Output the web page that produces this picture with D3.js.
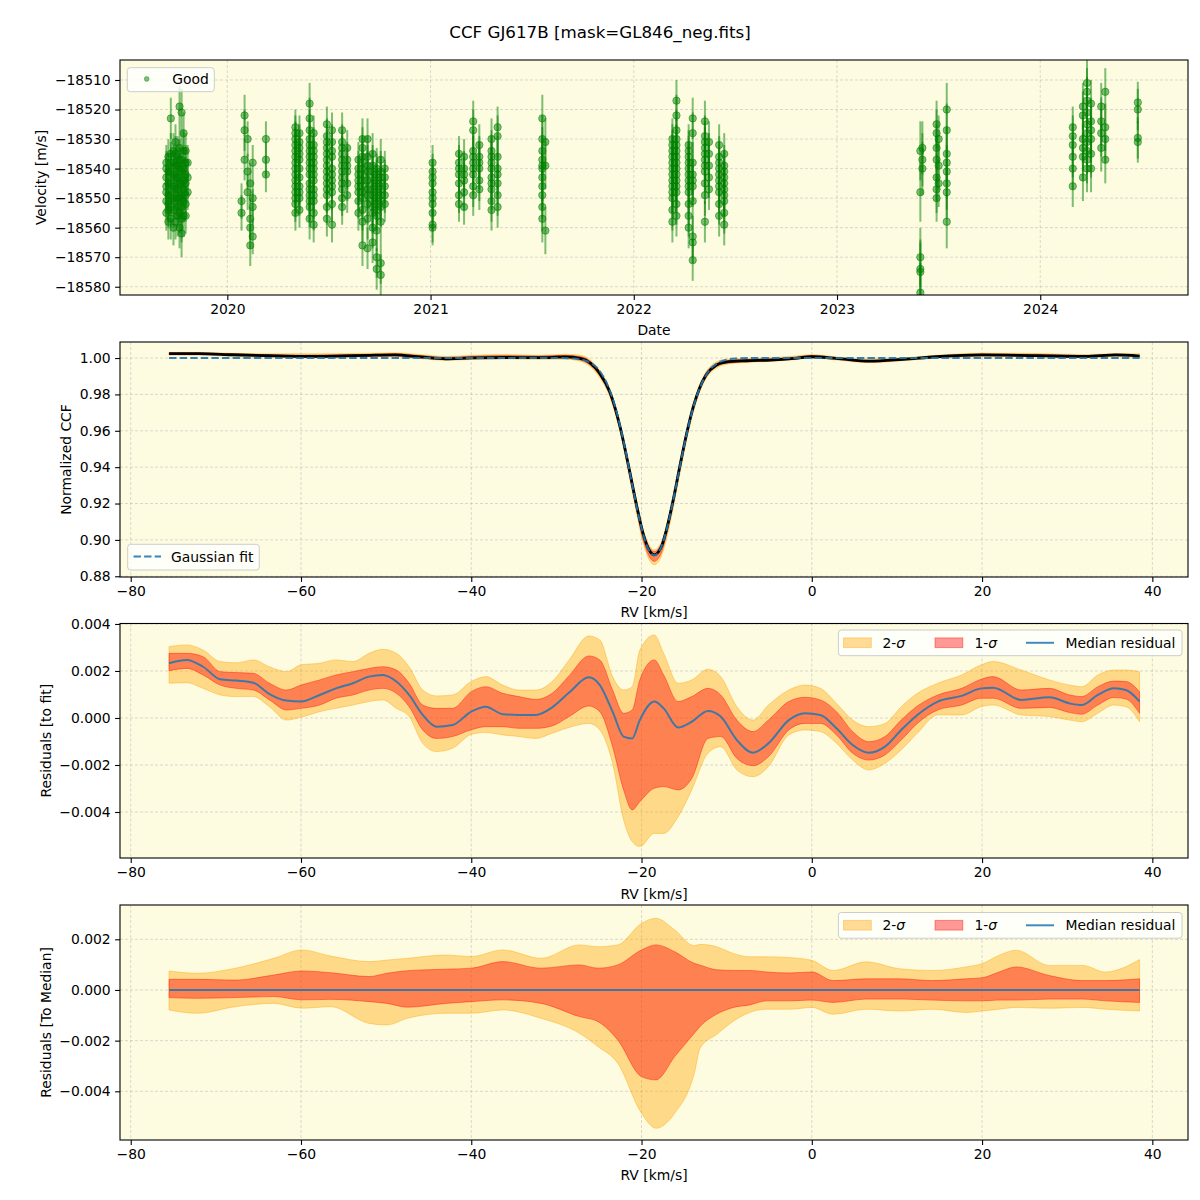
<!DOCTYPE html>
<html><head><meta charset="utf-8">
<script src="https://cdn.jsdelivr.net/npm/d3@7"></script>
<style>body{margin:0;background:#fff} svg{display:block} text{font-family:"DejaVu Sans",sans-serif}</style>
</head><body>
<script>
// ---------------- DATA ----------------
const chartTitle = "CCF GJ617B [mask=GL846_neg.fits]";

// Panel 1: velocity time series, grouped by observing night (fractional year)
const obsDate = [2019.700,2019.710,2019.722,2019.735,2019.745,2019.755,2019.765,2019.775,2019.785,2019.795,2019.805,
  2020.070,2020.085,2020.100,2020.113,2020.125,2020.190,
  2020.335,2020.355,2020.405,2020.425,2020.490,2020.515,2020.565,2020.590,2020.645,2020.665,2020.690,2020.715,2020.735,2020.755,2020.775,
  2021.010,2021.140,2021.165,2021.210,2021.240,2021.300,2021.330,2021.550,2021.565,
  2022.190,2022.210,2022.270,2022.290,2022.350,2022.370,2022.420,2022.445,
  2023.410,2023.420,2023.490,2023.500,2023.540,
  2024.160,2024.210,2024.230,2024.250,2024.300,2024.320,2024.480];
const obsErr = [6,6,7,6,6,7,7,8,7,6,6, 6,7,6,7,6,6, 6,6,7,6,6,6,6,6,6,7,7,7,7,7,6, 6,6,6,7,7,7,7,8,8, 7,7,7,7,7,7,7,7, 10,9,8,8,9, 7,8,8,8,8,8,7];
const obsVel = [
  [-18540,-18543,-18548,-18551,-18555,-18538,-18546],[-18536,-18552,-18545,-18558,-18541,-18549,-18554],
  [-18523,-18541,-18557,-18549,-18535,-18545,-18553,-18538],[-18538,-18550,-18546,-18560,-18542,-18554,-18534],
  [-18535,-18558,-18543,-18531,-18547,-18551,-18539],[-18543,-18553,-18547,-18539,-18536,-18556,-18550],
  [-18519,-18533,-18560,-18540,-18550,-18545,-18555,-18537],[-18521,-18545,-18562,-18549,-18537,-18553,-18541,-18557],
  [-18528,-18540,-18551,-18556,-18544,-18547,-18534],[-18534,-18545,-18556,-18542,-18538,-18549,-18552],[-18538,-18548,-18543],
  [-18551,-18555],[-18522,-18527,-18537],[-18548,-18541,-18530],[-18557,-18560,-18566,-18545],[-18563,-18538,-18550,-18553],[-18530,-18537,-18542],
  [-18526,-18528,-18530,-18532,-18534,-18536,-18538,-18540,-18542,-18544,-18546,-18548,-18550,-18552,-18555],
  [-18528,-18531,-18533,-18535,-18537,-18540,-18543,-18546,-18548,-18550,-18554],
  [-18518,-18523,-18527,-18530,-18532,-18534,-18536,-18538,-18540,-18542,-18545,-18547,-18549,-18551,-18553,-18557],
  [-18528,-18532,-18534,-18536,-18538,-18540,-18542,-18544,-18547,-18549,-18551,-18555,-18559],
  [-18525,-18529,-18531,-18533,-18535,-18537,-18539,-18541,-18543,-18545,-18547,-18549,-18553,-18557],
  [-18527,-18531,-18534,-18536,-18540,-18542,-18544,-18546,-18548,-18552,-18559],
  [-18527,-18531,-18533,-18535,-18537,-18539,-18541,-18543,-18545,-18547,-18550,-18553],
  [-18533,-18537,-18539,-18541,-18545,-18549],
  [-18537,-18540,-18542,-18544,-18546,-18548,-18551,-18555],
  [-18530,-18533,-18536,-18538,-18540,-18542,-18544,-18546,-18548,-18550,-18554,-18558,-18566],
  [-18530,-18536,-18539,-18541,-18544,-18547,-18549,-18552,-18557,-18567],
  [-18535,-18539,-18541,-18543,-18545,-18547,-18549,-18551,-18553,-18555,-18560,-18565],
  [-18540,-18542,-18544,-18546,-18548,-18550,-18552,-18554,-18556,-18561,-18570,-18574],
  [-18537,-18541,-18543,-18545,-18547,-18549,-18551,-18553,-18558,-18572,-18576],
  [-18540,-18543,-18546,-18549,-18552],
  [-18538,-18541,-18543,-18545,-18548,-18550,-18552,-18555,-18559,-18560],
  [-18535,-18538,-18540,-18542,-18545,-18549,-18552],
  [-18536,-18540,-18542,-18544,-18548,-18553],
  [-18524,-18527,-18534,-18536,-18538,-18540,-18542,-18546,-18549],
  [-18532,-18536,-18538,-18540,-18544,-18547],
  [-18530,-18534,-18536,-18538,-18540,-18543,-18545,-18547,-18551,-18554],
  [-18526,-18529,-18536,-18540,-18542,-18545,-18549,-18553],
  [-18523,-18530,-18534,-18537,-18539,-18540,-18543,-18546,-18549,-18553,-18557],
  [-18531,-18539,-18561],
  [-18530,-18532,-18534,-18536,-18538,-18540,-18542,-18544,-18546,-18548,-18550,-18554,-18558],
  [-18517,-18522,-18527,-18530,-18532,-18534,-18536,-18538,-18540,-18542,-18544,-18546,-18548,-18552,-18556],
  [-18532,-18534,-18536,-18538,-18540,-18542,-18544,-18546,-18548,-18552,-18556,-18560],
  [-18523,-18528,-18538,-18542,-18544,-18546,-18551,-18563,-18565,-18571],
  [-18524,-18529,-18531,-18533,-18535,-18537,-18539,-18541,-18545,-18549,-18558],
  [-18531,-18535,-18539,-18543,-18547],
  [-18532,-18536,-18538,-18540,-18542,-18544,-18546,-18548,-18552,-18556],
  [-18535,-18539,-18541,-18543,-18545,-18547,-18549,-18551,-18555,-18559],
  [-18534,-18548,-18570,-18574,-18575,-18582],[-18533,-18537,-18540],[-18525,-18528,-18533,-18537,-18543,-18547,-18550],
  [-18530,-18539,-18545],[-18520,-18527,-18535,-18538,-18541,-18545,-18548,-18558],
  [-18526,-18529,-18532,-18536,-18540,-18546],[-18519,-18522,-18530,-18533,-18536,-18543],
  [-18511,-18514,-18517,-18521,-18525,-18528,-18531,-18534,-18537,-18540],[-18518,-18524,-18527,-18530,-18535,-18540],
  [-18519,-18524,-18528,-18533],[-18514,-18526,-18530,-18537],[-18517.6,-18520,-18529.6,-18531]];
const yearTicks = [2020,2021,2022,2023,2024];
const velTicks = [-18510,-18520,-18530,-18540,-18550,-18560,-18570,-18580];

// Panel 2: median CCF with spread, and Gaussian fit
const ccfRv  = [-75.5,-72,-68,-64,-60,-56,-52,-49,-46,-43,-40,-36,-32,-29,-27.2,-26,-24.9,-23.7,-22.5,-21.4,-20.6,-19.8,-19.0,-18.5,-18.0,-17.6,-17.1,-16.3,-15.5,-14.7,-13.9,-13.2,-12.4,-11.2,-10.1,-7.7,-4.9,-2,0,2.9,6.8,10.7,14.6,20,26.4,32.2,35.7,38.5];
const ccfMed = [1.0024,1.0024,1.0018,1.0013,1.0009,1.0011,1.0015,1.0017,1.0006,0.9996,1.0001,1.0003,1.0002,1.0006,0.9998,0.9972,0.9915,0.9810,0.9618,0.9378,0.9195,0.9032,0.8936,0.8918,0.8935,0.8970,0.9050,0.9215,0.9405,0.9585,0.9735,0.9833,0.9908,0.9962,0.9978,0.9985,0.9989,0.9998,1.0007,0.9998,0.9983,0.9993,1.0007,1.0017,1.0013,1.0009,1.0017,1.0011];
const ccfDn2 = [0.0008,0.0008,0.0008,0.0008,0.0008,0.0008,0.0008,0.0009,0.0009,0.0009,0.0009,0.0008,0.0009,0.0012,0.0016,0.0020,0.0023,0.0026,0.0029,0.0037,0.0044,0.0049,0.0053,0.0055,0.0054,0.0052,0.0050,0.0046,0.0041,0.0036,0.0030,0.0024,0.0020,0.0017,0.0013,0.0009,0.0008,0.0007,0.0007,0.0009,0.0008,0.0008,0.0008,0.0008,0.0007,0.0007,0.0008,0.0008];
const ccfUp2 = [0.0007,0.0007,0.0008,0.0010,0.0015,0.0013,0.0011,0.0012,0.0013,0.0013,0.0013,0.0016,0.0012,0.0015,0.0018,0.0017,0.0017,0.0018,0.0018,0.0020,0.0024,0.0026,0.0028,0.0028,0.0027,0.0026,0.0025,0.0024,0.0021,0.0018,0.0017,0.0019,0.0018,0.0017,0.0015,0.0013,0.0013,0.0013,0.0012,0.0008,0.0011,0.0008,0.0008,0.0010,0.0012,0.0010,0.0007,0.0012];
const ccfDn1 = [0.0003,0.0003,0.0003,0.0003,0.0004,0.0004,0.0005,0.0005,0.0006,0.0005,0.0005,0.0004,0.0005,0.0005,0.0009,0.0012,0.0013,0.0016,0.0019,0.0025,0.0030,0.0033,0.0035,0.0036,0.0035,0.0033,0.0030,0.0027,0.0023,0.0020,0.0017,0.0014,0.0011,0.0009,0.0007,0.0006,0.0004,0.0004,0.0004,0.0005,0.0004,0.0004,0.0004,0.0004,0.0004,0.0004,0.0004,0.0005];
const ccfUp1 = [0.0004,0.0004,0.0004,0.0006,0.0007,0.0007,0.0005,0.0007,0.0008,0.0008,0.0009,0.0011,0.0009,0.0009,0.0010,0.0010,0.0009,0.0010,0.0010,0.0012,0.0015,0.0016,0.0017,0.0018,0.0017,0.0016,0.0015,0.0014,0.0012,0.0011,0.0010,0.0011,0.0009,0.0008,0.0008,0.0008,0.0007,0.0007,0.0007,0.0004,0.0004,0.0004,0.0004,0.0005,0.0007,0.0004,0.0004,0.0004];
const fitRv  = [-75.5,-30,-28,-27,-26,-25,-24,-23,-22,-21,-20,-19.5,-19,-18.5,-18,-17.5,-17,-16,-15,-14,-13,-12,-11,-10,-9,-7,38.5];
const fitVal = [1.0000,1.0000,0.9997,0.9991,0.9974,0.9934,0.9853,0.9716,0.9517,0.9282,0.9065,0.8984,0.8933,0.8915,0.8933,0.8984,0.9065,0.9282,0.9517,0.9716,0.9853,0.9934,0.9974,0.9991,0.9997,1.0000,1.0000];
const ccfTicks = [1.00,0.98,0.96,0.94,0.92,0.90,0.88];
const rvTicks = [-80,-60,-40,-20,0,20,40];

// Panel 3: residuals to fit
const resRv  = [-75.5,-73.4,-71.5,-69.5,-67.6,-65.6,-63.7,-61.7,-60.0,-57.8,-55.9,-53.9,-52.0,-50.4,-48.8,-47.3,-45.7,-44.1,-42.2,-40.0,-38.3,-36.3,-34.4,-32.4,-30.5,-28.5,-26.2,-24.9,-23.4,-22.1,-21.1,-20.2,-18.5,-17.4,-15.7,-14.1,-12.2,-10.7,-8.8,-6.9,-5.1,-2.7,-0.8,1.0,2.9,4.8,6.7,8.6,10.5,12.4,14.8,17.6,19.9,21.3,24.6,27.9,30.3,31.7,33.6,35.5,36.9,38.5];
const resMed = [0.00233,0.00247,0.00218,0.00165,0.00159,0.00150,0.00102,0.00074,0.00070,0.00098,0.00126,0.00148,0.00176,0.00183,0.00155,0.00098,0.00013,-0.00037,-0.00030,0.00027,0.00048,0.00016,0.00013,0.00013,0.00045,0.00108,0.00173,0.00140,0.00027,-0.00079,-0.00087,-0.00009,0.00070,0.00041,-0.00040,-0.00016,0.00030,0.00006,-0.00094,-0.00148,-0.00108,-0.00009,0.00020,0.00013,-0.00044,-0.00115,-0.00148,-0.00122,-0.00051,0.00013,0.00070,0.00094,0.00126,0.00129,0.00077,0.00088,0.00062,0.00055,0.00098,0.00126,0.00119,0.00070];
const resHi1 = [0.00275,0.00275,0.00261,0.00197,0.00193,0.00190,0.00148,0.00119,0.00140,0.00162,0.00183,0.00197,0.00211,0.00218,0.00204,0.00148,0.00055,0.00041,0.00041,0.00112,0.00133,0.00105,0.00091,0.00079,0.00105,0.00180,0.00264,0.00247,0.00119,0.00020,0.00034,0.00162,0.00247,0.00183,0.00070,0.00091,0.00126,0.00098,-0.00009,-0.00058,-0.00009,0.00070,0.00088,0.00077,0.00027,-0.00058,-0.00101,-0.00079,-0.00009,0.00051,0.00098,0.00126,0.00165,0.00176,0.00119,0.00126,0.00098,0.00091,0.00133,0.00157,0.00155,0.00112];
const resLo1 = [0.00201,0.00211,0.00183,0.00140,0.00126,0.00119,0.00077,0.00034,0.00041,0.00055,0.00084,0.00098,0.00119,0.00126,0.00105,0.00048,-0.00051,-0.00087,-0.00079,-0.00050,-0.00037,-0.00037,-0.00044,-0.00044,-0.00034,0.00006,0.00051,0.00027,-0.00122,-0.00306,-0.00391,-0.00356,-0.00299,-0.00292,-0.00306,-0.00257,-0.00087,-0.00079,-0.00172,-0.00203,-0.00165,-0.00051,-0.00023,-0.00023,-0.00072,-0.00150,-0.00179,-0.00157,-0.00094,-0.00023,0.00034,0.00055,0.00084,0.00084,0.00041,0.00045,0.00023,0.00016,0.00055,0.00087,0.00081,0.00020];
const resHi2 = [0.00304,0.00311,0.00289,0.00240,0.00235,0.00247,0.00218,0.00197,0.00226,0.00233,0.00247,0.00240,0.00275,0.00292,0.00275,0.00218,0.00119,0.00094,0.00098,0.00155,0.00176,0.00140,0.00119,0.00119,0.00155,0.00247,0.00349,0.00332,0.00176,0.00119,0.00133,0.00289,0.00353,0.00275,0.00148,0.00162,0.00207,0.00176,0.00048,-0.00009,0.00055,0.00119,0.00140,0.00126,0.00062,-0.00009,-0.00037,-0.00023,0.00048,0.00105,0.00148,0.00183,0.00226,0.00240,0.00204,0.00162,0.00140,0.00133,0.00183,0.00204,0.00204,0.00197];
const resLo2 = [0.00148,0.00150,0.00126,0.00098,0.00091,0.00091,0.00048,-0.00009,0.00003,0.00027,0.00041,0.00055,0.00070,0.00077,0.00041,0.00006,-0.00108,-0.00143,-0.00129,-0.00070,-0.00062,-0.00072,-0.00079,-0.00087,-0.00065,-0.00040,-0.00023,-0.00051,-0.00193,-0.00434,-0.00526,-0.00547,-0.00491,-0.00491,-0.00420,-0.00306,-0.00150,-0.00122,-0.00221,-0.00250,-0.00207,-0.00072,-0.00051,-0.00058,-0.00108,-0.00179,-0.00221,-0.00193,-0.00136,-0.00065,0.00013,0.00013,0.00048,0.00055,0.00013,0.00006,-0.00009,-0.00016,0.00020,0.00055,0.00048,-0.00016];
const resTicks = [0.004,0.002,0.000,-0.002,-0.004];

// Panel 4: residuals to median
const mrRv  = [-75.5,-72.2,-67.7,-63.2,-59.9,-56.5,-52.0,-49.9,-47.5,-43.0,-40.0,-36.3,-31.8,-27.3,-25.1,-22.8,-20.0,-18.3,-16.1,-13.8,-13.1,-11.2,-9.2,-7.3,-5.3,-2.6,0.0,2.5,6.4,10.3,14.2,18.1,20.0,22.0,24.0,27.9,31.8,34.5,38.5];
const mrHi1 = [0.00042,0.00042,0.00039,0.00059,0.00075,0.00068,0.00053,0.00066,0.00076,0.00082,0.00086,0.00112,0.00086,0.00099,0.00086,0.00099,0.00158,0.00178,0.00151,0.00105,0.00098,0.00080,0.00077,0.00077,0.00071,0.00067,0.00071,0.00037,0.00044,0.00044,0.00037,0.00044,0.00048,0.00071,0.00091,0.00057,0.00037,0.00037,0.00044];
const mrLo1 = [-0.00030,-0.00033,-0.00030,-0.00026,-0.00039,-0.00037,-0.00046,-0.00053,-0.00068,-0.00053,-0.00046,-0.00039,-0.00053,-0.00105,-0.00125,-0.00197,-0.00342,-0.00355,-0.00263,-0.00171,-0.00143,-0.00096,-0.00069,-0.00059,-0.00043,-0.00043,-0.00040,-0.00049,-0.00036,-0.00036,-0.00040,-0.00043,-0.00043,-0.00040,-0.00040,-0.00036,-0.00036,-0.00043,-0.00049];
const mrHi2 = [0.00075,0.00066,0.00086,0.00125,0.00158,0.00134,0.00112,0.00118,0.00125,0.00138,0.00132,0.00158,0.00125,0.00178,0.00171,0.00178,0.00263,0.00283,0.00237,0.00175,0.00180,0.00171,0.00144,0.00131,0.00131,0.00128,0.00117,0.00077,0.00111,0.00084,0.00077,0.00091,0.00104,0.00137,0.00157,0.00097,0.00097,0.00071,0.00120];
const mrLo2 = [-0.00079,-0.00092,-0.00066,-0.00053,-0.00072,-0.00066,-0.00132,-0.00138,-0.00112,-0.00092,-0.00092,-0.00079,-0.00112,-0.00171,-0.00224,-0.00289,-0.00487,-0.00546,-0.00487,-0.00329,-0.00229,-0.00176,-0.00123,-0.00089,-0.00076,-0.00076,-0.00069,-0.00096,-0.00076,-0.00083,-0.00076,-0.00089,-0.00083,-0.00076,-0.00069,-0.00072,-0.00069,-0.00076,-0.00083];
const mrMedRv = [-75.5, 38.5];
const mrMed = [0, 0];
const mrTicks = [0.002,0.000,-0.002,-0.004];

// ---------------- DRAWING ----------------
const W = 1200, H = 1200, L = 120, R = 1188;
const BG = "#fdfce1", FS = 13.9;
const C0 = "#1f77b4";
const svg = d3.select("body").append("svg").attr("width", W).attr("height", H);
svg.append("rect").attr("width", W).attr("height", H).attr("fill", "#fff");

svg.append("text").attr("x", 600).attr("y", 32).attr("dy", "0.35em").attr("text-anchor", "middle")
  .attr("font-size", 16.7).text(chartTitle);

function panel(id, top, bottom, x, y, xTicks, yTicks, xFmt, yFmt, xLabel, xLabelY, yLabel, yLabelX) {
  const g = svg.append("g");
  g.append("rect").attr("x", L).attr("y", top).attr("width", R - L).attr("height", bottom - top).attr("fill", BG);
  g.append("clipPath").attr("id", id).append("rect").attr("x", L).attr("y", top).attr("width", R - L).attr("height", bottom - top);
  const grid = g.append("g").attr("stroke", "#b0b0b0").attr("stroke-opacity", 0.6).attr("stroke-width", 0.8).attr("stroke-dasharray", "3,2");
  grid.selectAll(null).data(xTicks).join("line").attr("x1", d => x(d)).attr("x2", d => x(d)).attr("y1", top).attr("y2", bottom);
  grid.selectAll(null).data(yTicks).join("line").attr("y1", d => y(d)).attr("y2", d => y(d)).attr("x1", L).attr("x2", R);
  const plot = g.append("g").attr("clip-path", `url(#${id})`);
  const axes = g.append("g");
  axes.append("rect").attr("x", L).attr("y", top).attr("width", R - L).attr("height", bottom - top)
    .attr("fill", "none").attr("stroke", "#000").attr("stroke-width", 1.1);
  const xa = axes.append("g").attr("transform", `translate(0,${bottom})`)
    .call(d3.axisBottom(x).tickValues(xTicks).tickFormat(xFmt).tickSize(4.9).tickPadding(4.4));
  const ya = axes.append("g").attr("transform", `translate(${L},0)`)
    .call(d3.axisLeft(y).tickValues(yTicks).tickFormat(yFmt).tickSize(4.9).tickPadding(4.4));
  [xa, ya].forEach(a => {
    a.select(".domain").remove();
    a.attr("font-size", FS).attr("font-family", "DejaVu Sans");
    a.selectAll("line").attr("stroke", "#000").attr("stroke-width", 1.1);
    a.selectAll("text").attr("fill", "#000");
  });
  axes.append("text").attr("x", (L + R) / 2).attr("y", xLabelY).attr("dy", "0.35em").attr("text-anchor", "middle")
    .attr("font-size", FS).text(xLabel);
  axes.append("text").attr("transform", `translate(${yLabelX},${(top + bottom) / 2}) rotate(-90)`)
    .attr("dy", "0.35em").attr("text-anchor", "middle").attr("font-size", FS).text(yLabel);
  const leg = g.append("g");
  return { plot, leg };
}

function legendBox(g, x0, y0, w, h) {
  g.append("rect").attr("x", x0).attr("y", y0).attr("width", w).attr("height", h).attr("rx", 3)
    .attr("fill", "#fff").attr("fill-opacity", 0.8).attr("stroke", "#cccccc").attr("stroke-width", 1);
}

// ---- Panel 1 ----
const x1 = d3.scaleLinear().domain([2019.472, 2024.727]).range([L, R]);
const y1 = d3.scaleLinear().domain([-18582.8, -18503.23]).range([295, 60]);
const p1 = panel("c1", 60, 295, x1, y1, yearTicks, velTicks, d3.format("d"), d3.format("d"),
  "Date", 330, "Velocity [m/s]", 41);
const pts = [];
obsDate.forEach((t, i) => obsVel[i].forEach(v => pts.push({ t, v, e: obsErr[i] })));
p1.plot.append("g").selectAll("line").data(pts).join("line")
  .attr("x1", d => x1(d.t)).attr("x2", d => x1(d.t))
  .attr("y1", d => y1(d.v - d.e)).attr("y2", d => y1(d.v + d.e))
  .attr("stroke", "#008000").attr("stroke-opacity", 0.5).attr("stroke-width", 2);
p1.plot.append("g").selectAll("circle").data(pts).join("circle")
  .attr("cx", d => x1(d.t)).attr("cy", d => y1(d.v)).attr("r", 3.7)
  .attr("fill", "#008000").attr("fill-opacity", 0.5)
  .attr("stroke", "#008000").attr("stroke-opacity", 0.5).attr("stroke-width", 1);
legendBox(p1.leg, 127.3, 67.7, 87, 24);
p1.leg.append("circle").attr("cx", 146.7).attr("cy", 79).attr("r", 2.4).attr("fill", "#008000").attr("fill-opacity", 0.5)
  .attr("stroke", "#008000").attr("stroke-opacity", 0.5).attr("stroke-width", 0.8);
p1.leg.append("text").attr("x", 172.3).attr("y", 79.5).attr("dy", "0.35em").attr("font-size", FS).text("Good");

// ---- Panels 2-4 shared x ----
const xr = d3.scaleLinear().domain([-81.26, 44.19]);
const mkX = () => xr.copy().range([L, R]);

// ---- Panel 2 ----
const x2 = mkX();
const y2 = d3.scaleLinear().domain([0.8796, 1.00882]).range([577, 342]);
const p2 = panel("c2", 342, 577, x2, y2, rvTicks, ccfTicks, d3.format("d"), d3.format(".2f"),
  "RV [km/s]", 612, "Normalized CCF", 66);
const ccfRows = ccfRv.map((r, i) => ({ r, m: ccfMed[i], d2: ccfDn2[i], u2: ccfUp2[i], d1: ccfDn1[i], u1: ccfUp1[i] }));
const cur = d3.curveMonotoneX;
p2.plot.append("path").datum(ccfRows)
  .attr("d", d3.area().x(d => x2(d.r)).y0(d => y2(d.m - d.d2)).y1(d => y2(d.m + d.u2)).curve(cur))
  .attr("fill", "orange").attr("fill-opacity", 0.4).attr("stroke", "orange").attr("stroke-opacity", 0.4);
p2.plot.append("path").datum(ccfRows)
  .attr("d", d3.area().x(d => x2(d.r)).y0(d => y2(d.m - d.d1)).y1(d => y2(d.m + d.u1)).curve(cur))
  .attr("fill", "red").attr("fill-opacity", 0.4).attr("stroke", "red").attr("stroke-opacity", 0.4);
p2.plot.append("path").datum(ccfRows)
  .attr("d", d3.line().x(d => x2(d.r)).y(d => y2(d.m)).curve(cur))
  .attr("fill", "none").attr("stroke", "#000").attr("stroke-width", 2.8);
p2.plot.append("path").datum(fitRv.map((r, i) => ({ r, v: fitVal[i] })))
  .attr("d", d3.line().x(d => x2(d.r)).y(d => y2(d.v)).curve(cur))
  .attr("fill", "none").attr("stroke", C0).attr("stroke-opacity", 0.9).attr("stroke-width", 2).attr("stroke-dasharray", "7.4,3.2");
legendBox(p2.leg, 127.7, 544.3, 131.6, 25.7);
p2.leg.append("line").attr("x1", 133.5).attr("x2", 161).attr("y1", 556.5).attr("y2", 556.5)
  .attr("stroke", C0).attr("stroke-opacity", 0.9).attr("stroke-width", 2).attr("stroke-dasharray", "7.4,3.2");
p2.leg.append("text").attr("x", 171).attr("y", 557).attr("dy", "0.35em").attr("font-size", FS).text("Gaussian fit");

// residual legend helper
function sigmaLegend(g, top) {
  legendBox(g, 838.4, top, 343.6, 25.7);
  const cy = top + 12.8;
  g.append("rect").attr("x", 843.5).attr("y", cy - 4.9).attr("width", 27.8).attr("height", 9.7)
    .attr("fill", "orange").attr("fill-opacity", 0.4).attr("stroke", "orange").attr("stroke-opacity", 0.4);
  const t1 = g.append("text").attr("x", 882.5).attr("y", cy).attr("dy", "0.35em").attr("font-size", FS);
  t1.append("tspan").text("2-"); t1.append("tspan").attr("font-style", "italic").text("σ");
  g.append("rect").attr("x", 935).attr("y", cy - 4.9).attr("width", 27.8).attr("height", 9.7)
    .attr("fill", "red").attr("fill-opacity", 0.4).attr("stroke", "red").attr("stroke-opacity", 0.4);
  const t2 = g.append("text").attr("x", 974.5).attr("y", cy).attr("dy", "0.35em").attr("font-size", FS);
  t2.append("tspan").text("1-"); t2.append("tspan").attr("font-style", "italic").text("σ");
  g.append("line").attr("x1", 1026).attr("x2", 1054).attr("y1", cy).attr("y2", cy)
    .attr("stroke", C0).attr("stroke-opacity", 0.85).attr("stroke-width", 2);
  g.append("text").attr("x", 1065.5).attr("y", cy).attr("dy", "0.35em").attr("font-size", FS).text("Median residual");
}

function bands(p, x, y, rv, lo2, hi2, lo1, hi1, medRv, med) {
  const rows2 = rv.map((r, i) => ({ r, a: lo2[i], b: hi2[i] }));
  const rows1 = rv.map((r, i) => ({ r, a: lo1[i], b: hi1[i] }));
  const ar = d3.area().x(d => x(d.r)).y0(d => y(d.a)).y1(d => y(d.b)).curve(cur);
  p.plot.append("path").datum(rows2).attr("d", ar)
    .attr("fill", "orange").attr("fill-opacity", 0.4).attr("stroke", "orange").attr("stroke-opacity", 0.4).attr("stroke-width", 1);
  p.plot.append("path").datum(rows1).attr("d", ar)
    .attr("fill", "red").attr("fill-opacity", 0.4).attr("stroke", "red").attr("stroke-opacity", 0.4).attr("stroke-width", 1);
  p.plot.append("path").datum(medRv.map((r, i) => ({ r, v: med[i] })))
    .attr("d", d3.line().x(d => x(d.r)).y(d => y(d.v)).curve(cur))
    .attr("fill", "none").attr("stroke", C0).attr("stroke-opacity", 0.85).attr("stroke-width", 2);
}

// ---- Panel 3 ----
const x3 = mkX();
const y3 = d3.scaleLinear().domain([-0.005957, 0.00402]).range([858, 623.5]);
const p3 = panel("c3", 623.5, 858, x3, y3, rvTicks, resTicks, d3.format("d"), d3.format(".3f"),
  "RV [km/s]", 894, "Residuals [to fit]", 46);
bands(p3, x3, y3, resRv, resLo2, resHi2, resLo1, resHi1, resRv, resMed);
sigmaLegend(p3.leg, 630);

// ---- Panel 4 ----
const x4 = mkX();
const y4 = d3.scaleLinear().domain([-0.005922, 0.003354]).range([1140, 905]);
const p4 = panel("c4", 905, 1140, x4, y4, rvTicks, mrTicks, d3.format("d"), d3.format(".3f"),
  "RV [km/s]", 1175, "Residuals [To Median]", 46);
bands(p4, x4, y4, mrRv, mrLo2, mrHi2, mrLo1, mrHi1, mrMedRv, mrMed);
sigmaLegend(p4.leg, 912.5);
</script>
</body></html>
